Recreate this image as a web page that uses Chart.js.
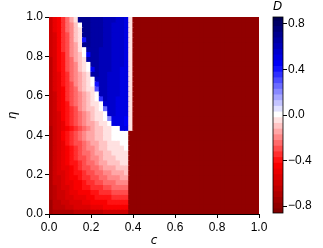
<!DOCTYPE html>
<html>
<head>
<meta charset="utf-8">
<script src="https://cdn.jsdelivr.net/npm/chart.js@4.4.1/dist/chart.umd.min.js"></script>
<style>
  html, body { margin: 0; padding: 0; background: #fff; }
  #wrap { position: relative; width: 323px; height: 248px; overflow: hidden; }
  #main { position: absolute; left: 0; top: 0; }
  #cbar { position: absolute; left: 262px; top: 0; }
</style>
</head>
<body>
<div id="wrap">
  <canvas id="main" width="323" height="248"></canvas>
  <canvas id="cbar" width="61" height="248"></canvas>
</div>
<script>
// D(c, eta): one character per cell, cells are C_STEP wide and ETA_STEP high.
// rows go from eta = 1 (top) down to eta = 0, columns from c = 0 to c = 1
const C_STEP = 0.02;
const ETA_STEP = 0.025;

// contour levels, and the character used for each in the rows below
const LEVEL_KEY = "qponmlkjihgfedcba0ABCDEFGHIJKLMNOPQ";
const LEVEL_VALUES = [
  -0.85, -0.80, -0.75, -0.70, -0.65, -0.60, -0.55, -0.50, -0.45, -0.40, -0.35, -0.30,
  -0.25, -0.20, -0.15, -0.10, -0.05, 0.00, 0.05, 0.10, 0.15, 0.20, 0.25, 0.30,
  0.35, 0.40, 0.45, 0.50, 0.55, 0.60, 0.65, 0.70, 0.75, 0.80, 0.85
];

// c from 0 to 0.40
const LEFT_ROWS = [
  "ljigecaNNNMMMLLLKKJa",
  "ljigedb0NNMMMLLKKKJa",
  "ljigedbaNNMMMLLKKKJa",
  "lkigfdbaNNMMMLLKKKJa",
  "lkigfdbaHNMMMLLKKKJa",
  "lkigfdcaNNMMMLLKKKJa",
  "lkigfdca0MMMLLLKKKJa",
  "lkihfdcb0IMMLLLKKKJa",
  "mkihfecbaMMMLLLKKKJa",
  "mkihfedba0MMLLLKKKJa",
  "mkihfedba0IMLLLKKJJa",
  "mkjhgedcbaMMLLKKKJJa",
  "mkjhgedcba0LLLKKKJJa",
  "mkjhgfdcba0HLLKKKJJa",
  "mkjigfecbaaFLLKKKJJa",
  "mljigfedcba0LLKKKJJa",
  "mljigfedcba0GLKKJJJa",
  "mljihfedcbaa0KKKJJJa",
  "mljihgfdcbba0EKKJJJa",
  "mlkihgfedcbaa0KKJJJa",
  "mlkihgfedcbaa0DJJJIa",
  "mlkjhgfedccbaa0JJJIa",
  "nlkjihgfedcbbaa00JJa",
  "nlkihgfedccbbaa0000p",
  "nlkihgfedccbbaa0000p",
  "nlkjhgffedccbbaaa00p",
  "nlkjihgfeddcbbaaaa0p",
  "nlkjihgfeedccbbaaaap",
  "nlkjihgffeddcbbbaaap",
  "nlkjihhgfeedccbbbaap",
  "nlkjjihgffeedcccbbbp",
  "nlkkjihhgffeeddcccbp",
  "nllkjiihggffeedddccp",
  "nllkjjiihggffeeedddp",
  "nmlkkjiihhgggffeeeep",
  "nmllkjjiiihhgggffffp",
  "nmllkkjjjiihhhhggggp",
  "ommllkkkjjiiiihhhhhp",
  "ommmllkkkkjjjiiiiiip",
  "onnnnnmmmmmmmllllllp"
];
// c from 0.40 to 1 is flat
const RIGHT_PART = "pppppppppppppppppppppppppppppp";

const AXIS_TICKS = [0, 0.2, 0.4, 0.6, 0.8, 1.0];
const CBAR_TICKS = [-0.8, -0.4, 0, 0.4, 0.8];
const D_MIN = -0.86, D_MAX = 0.86;

const TICK_FONT = { family: "'Liberation Sans', Arial, sans-serif", size: 12 };
const LABEL_FONT = { family: "'DejaVu Sans', sans-serif", size: 12, style: "italic" };

// matplotlib "seismic", run so that +D is blue and -D is red
function seismic(t) {
  let r, g, b;
  if (t < 0.25) { r = 0; g = 0; b = 0.3 + 0.7 * t / 0.25; }
  else if (t < 0.5) { const s = (t - 0.25) / 0.25; r = s; g = s; b = 1; }
  else if (t < 0.75) { const s = 1 - (t - 0.5) / 0.25; r = 1; g = s; b = s; }
  else { r = 1 - 0.5 * (t - 0.75) / 0.25; g = 0; b = 0; }
  return `rgb(${Math.round(r*255)},${Math.round(g*255)},${Math.round(b*255)})`;
}
function dColor(d) {
  const t = Math.min(1, Math.max(0, (D_MAX - d) / (D_MAX - D_MIN)));
  return seismic(t);
}
const levelOf = ch => LEVEL_VALUES[LEVEL_KEY.indexOf(ch)];
const fmt = v => (v < 0 ? "\u2212" : "") + Math.abs(v).toFixed(1);

// one floating-bar dataset per eta row
const rows = LEFT_ROWS.map(s => s + RIGHT_PART);
const cellSets = rows.map((row, r) => {
  const top = 1 - r * ETA_STEP, bot = top - ETA_STEP;
  const data = [], colors = [];
  for (let i = 0; i < row.length; i++) {
    data.push({ x: (i + 0.5) * C_STEP, y: [bot, top] });
    colors.push(dColor(levelOf(row[i])));
  }
  return {
    data, backgroundColor: colors, borderWidth: 0, inflateAmount: 0.6,
    grouped: false, barPercentage: 1, categoryPercentage: 1
  };
});

const axisCommon = {
  type: "linear", min: 0, max: 1, offset: false,
  grid: { offset: false, drawOnChartArea: false, drawTicks: true, tickLength: 4, color: "#000" },
  border: { display: true, color: "#000", width: 1 },
  afterBuildTicks: s => { s.ticks = AXIS_TICKS.map(v => ({ value: v })); },
  ticks: { callback: v => fmt(v), font: TICK_FONT, color: "#000", padding: 2, maxRotation: 0, autoSkip: false }
};

new Chart(document.getElementById("main"), {
  type: "bar",
  data: { datasets: cellSets },
  options: {
    animation: false, responsive: false, events: [],
    layout: { padding: { left: 0, right: 64, top: 17, bottom: 0 } },
    plugins: { legend: { display: false }, tooltip: { enabled: false } },
    scales: {
      x: {
        ...axisCommon,
        title: { display: true, text: "c", font: LABEL_FONT, color: "#000", padding: { top: 0, bottom: 0 } },
        afterFit: s => { s.height = 34; }
      },
      y: {
        ...axisCommon,
        title: { display: true, text: "\u03B7", font: LABEL_FONT, color: "#000", padding: { top: 6, bottom: 0 } },
        afterFit: s => { s.width = 49; }
      }
    }
  }
});

// colorbar: one band per contour level
const outline = {
  id: "outline",
  afterDatasetsDraw(chart) {
    const a = chart.chartArea, ctx = chart.ctx;
    ctx.save();
    ctx.strokeStyle = "#000";
    ctx.lineWidth = 0.8;
    ctx.strokeRect(a.left, a.top, a.right - a.left, a.bottom - a.top);
    ctx.restore();
  }
};

new Chart(document.getElementById("cbar"), {
  type: "bar",
  data: {
    labels: [""],
    datasets: LEVEL_VALUES.map(v => ({
      data: [[v - 0.025, v + 0.025]], backgroundColor: dColor(v), borderWidth: 0,
      inflateAmount: 0.6, grouped: false, barPercentage: 1, categoryPercentage: 1
    }))
  },
  options: {
    animation: false, responsive: false, events: [],
    layout: { padding: { left: 11, right: 0, top: 0, bottom: 35 } },
    plugins: {
      legend: { display: false }, tooltip: { enabled: false },
      title: { display: true, text: "D", align: "start", font: { ...LABEL_FONT, weight: "normal", lineHeight: 1.2 }, color: "#000", padding: { top: 0, bottom: 2.6 } }
    },
    scales: {
      x: { display: false },
      y: {
        position: "right", min: D_MIN, max: D_MAX,
        grid: { drawOnChartArea: false, drawTicks: true, tickLength: 4, color: "#000" },
        border: { display: false },
        afterBuildTicks: s => { s.ticks = CBAR_TICKS.map(v => ({ value: v })); },
        ticks: { callback: v => fmt(v), font: TICK_FONT, color: "#000", padding: 1 },
        afterFit: s => { s.width = 40; }
      }
    }
  },
  plugins: [outline]
});
</script>
</body>
</html>
